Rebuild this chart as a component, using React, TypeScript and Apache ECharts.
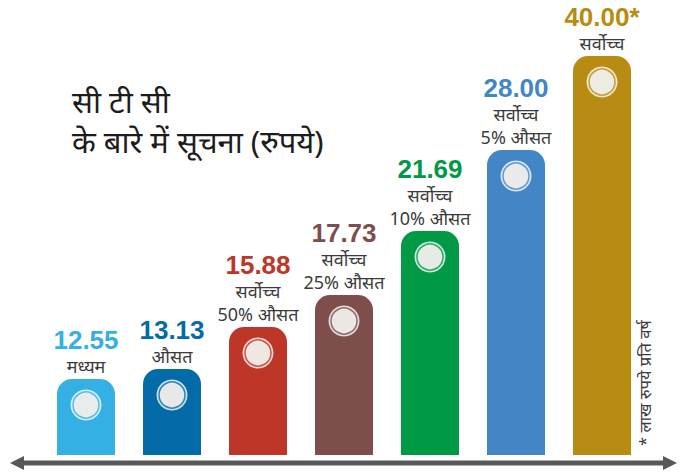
import React, { useEffect, useRef } from "react";
import * as echarts from "echarts";

const categories = ["मध्यम", "औसत", "सर्वोच्च 50% औसत", "सर्वोच्च 25% औसत", "सर्वोच्च 10% औसत", "सर्वोच्च 5% औसत", "सर्वोच्च"];
const valueLabels = ["12.55", "13.13", "15.88", "17.73", "21.69", "28.00", "40.00*"];
const subLabels: string[][] = [
  ["मध्यम"],
  ["औसत"],
  ["सर्वोच्च", "50% औसत"],
  ["सर्वोच्च", "25% औसत"],
  ["सर्वोच्च", "10% औसत"],
  ["सर्वोच्च", "5% औसत"],
  ["सर्वोच्च"],
];
// relative bar heights as drawn in the infographic
const barHeights = [76, 86, 128, 160, 224, 305, 399];
const colors = ["#35B0E4", "#036BA8", "#BE3627", "#7D4E4C", "#009A47", "#4386C6", "#B88B12"];
const titleLines = ["सी टी सी", "के बारे में सूचना (रुपये)"];
const unitNote = "* लाख रुपये प्रति वर्ष";

const DEV = "'Noto Sans', 'Noto Sans Devanagari', sans-serif";
const NUM = "'Liberation Sans', Arial, sans-serif";

export default function App() {
  const ref = useRef<HTMLDivElement>(null);
  useEffect(() => {
    if (!ref.current) return;
    const chart = echarts.init(ref.current, null, { renderer: "svg" });
    const rich: any = {
      s: { fontFamily: DEV, fontSize: 18, color: "#3b3b3b", lineHeight: 23 },
    };
    colors.forEach((c, i) => {
      rich["v" + i] = { fontFamily: NUM, fontWeight: "bold", fontSize: 26, color: c, lineHeight: 28 };
    });
    chart.setOption({
      animation: false,
      grid: { left: 43, right: 38, top: 55, bottom: 17 },
      xAxis: {
        type: "category",
        data: categories,
        axisLine: { show: false },
        axisTick: { show: false },
        axisLabel: { show: false },
      },
      yAxis: { type: "value", min: 0, max: 400, show: false, splitLine: { show: false } },
      series: [
        {
          type: "bar",
          barWidth: 58,
          data: barHeights.map((h, i) => ({
            value: h,
            itemStyle: { color: colors[i], borderRadius: [15, 15, 0, 0] },
          })),
          label: {
            show: true,
            position: "top",
            distance: 2,
            formatter: (p: any) =>
              ["{v" + p.dataIndex + "|" + valueLabels[p.dataIndex] + "}"]
                .concat(subLabels[p.dataIndex].map((s) => "{s|" + s + "}"))
                .join("\n"),
            rich,
          },
        },
        {
          type: "scatter",
          symbol: "circle",
          symbolSize: 31,
          z: 3,
          data: barHeights.map((h) => h - 26),
          itemStyle: { color: "#ffffff" },
          silent: true,
        },
        {
          type: "scatter",
          symbol: "circle",
          symbolSize: 26,
          z: 4,
          data: barHeights.map((h, i) => ({
            value: h - 26,
            itemStyle: { color: "#ECEBE6", borderColor: colors[i], borderWidth: 1.5 },
          })),
          silent: true,
        },
      ],
      graphic: [
        {
          type: "text",
          left: 72,
          top: 81,
          style: {
            text: titleLines.join("\n"),
            fontFamily: DEV,
            fontSize: 31,
            lineHeight: 40,
            fill: "#1c1c1c",
          },
        },
        {
          type: "text",
          x: 644,
          y: 383,
          rotation: Math.PI / 2,
          style: {
            text: unitNote,
            fontFamily: DEV,
            fontSize: 16.5,
            fill: "#3b3b3b",
            align: "center",
            verticalAlign: "middle",
          },
        },
        {
          type: "line",
          shape: { x1: 18, y1: 463, x2: 670, y2: 463 },
          style: { stroke: "#58585A", lineWidth: 5 },
        },
        {
          type: "polygon",
          shape: { points: [[10, 463], [24, 456], [24, 470]] },
          style: { fill: "#58585A" },
        },
        {
          type: "polygon",
          shape: { points: [[677, 463], [663, 456], [663, 470]] },
          style: { fill: "#58585A" },
        },
      ],
    });
    return () => chart.dispose();
  }, []);
  return (
    <div
      ref={ref}
      style={{ position: "absolute", left: 0, top: 0, width: 683, height: 472, background: "#ffffff" }}
    />
  );
}
